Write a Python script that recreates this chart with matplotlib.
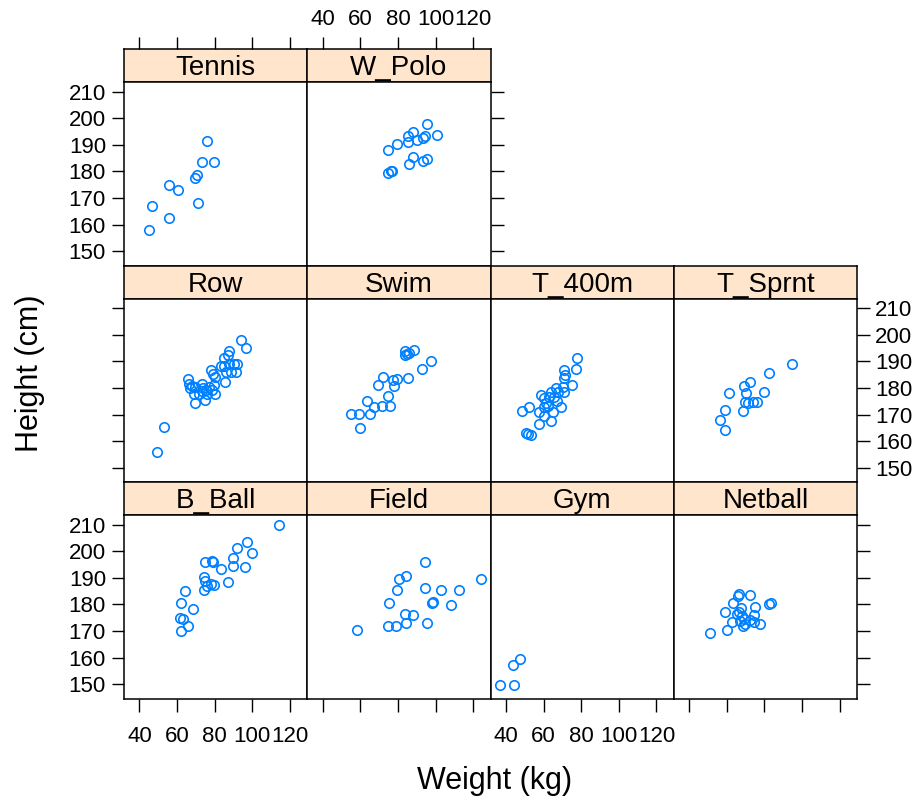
import matplotlib
matplotlib.use("Agg")
import matplotlib.pyplot as plt

plt.rcParams['font.family'] = ['Liberation Sans', 'DejaVu Sans']

# berat (kg) dan tinggi (cm) tiap cabang olahraga
tennis_wt = [76.0, 73.1, 79.8, 70.5, 69.6, 55.5, 60.3, 71.1, 46.9, 55.7, 45.0]
tennis_ht = [191.4, 183.4, 183.4, 178.8, 177.6, 174.9, 172.9, 168.3, 167.0, 162.5, 157.9]

wpolo_wt = [95.4, 100.8, 88.0, 85.1, 94.5, 93.3, 89.9, 85.1, 79.6, 74.9, 88.1, 86.0, 95.4, 93.3, 74.9, 76.3, 77.1]
wpolo_ht = [197.8, 193.8, 194.7, 193.4, 193.3, 192.4, 191.8, 191.1, 190.5, 188.0, 185.5, 182.7, 184.8, 184.0, 179.5, 180.0, 180.2]

row_wt = [93.8, 96.5, 87.6, 87.2, 84.9, 84.9, 87.6, 90.3, 92.0, 85.8, 88.5, 91.2, 85.3, 77.8, 79.0, 80.1,
          65.8, 66.2, 67.1, 69.8, 73.0, 73.7, 75.5, 76.9, 78.7, 79.6, 76.0, 80.1, 71.5, 68.9, 75.1, 69.8,
          73.0, 52.8, 49.3, 83.1, 68.0]
row_ht = [198.2, 195.1, 194.0, 192.5, 191.2, 188.4, 189.0, 189.0, 189.0, 185.9, 185.9, 185.9, 182.1, 186.8, 185.3, 184.0,
          183.4, 181.5, 180.0, 180.5, 181.5, 180.0, 179.3, 180.5, 179.3, 181.3, 177.8, 177.8, 177.8, 177.8, 175.5, 174.3,
          178.8, 165.5, 155.8, 188.4, 180.9]

swim_wt = [83.5, 86.0, 88.3, 83.5, 84.7, 97.5, 92.7, 85.2, 79.5, 77.2, 77.8, 72.2, 69.2, 74.9, 63.8, 71.3,
           76.0, 67.4, 64.9, 59.4, 55.3, 60.1]
swim_ht = [194.0, 193.2, 194.4, 192.4, 192.8, 190.3, 187.0, 183.8, 183.4, 183.1, 180.6, 184.0, 181.3, 176.9, 175.2, 173.4,
           173.4, 172.7, 170.1, 170.1, 170.1, 164.8]

t400_wt = [77.8, 77.3, 71.0, 71.4, 71.0, 75.1, 70.1, 66.6, 71.0, 67.5, 63.9, 58.9, 60.3, 63.0, 67.1, 61.2,
           60.3, 64.8, 69.2, 57.7, 60.3, 48.7, 52.3, 63.9, 57.7, 50.5, 53.2, 65.7, 62.5, 51.5]
t400_ht = [191.3, 187.2, 186.8, 185.0, 183.8, 181.3, 180.5, 180.0, 178.4, 178.4, 178.4, 177.5, 176.3, 176.5, 175.2, 174.2,
           172.7, 170.9, 172.7, 170.9, 169.6, 171.5, 172.7, 167.7, 166.5, 163.0, 162.5, 176.5, 173.4, 162.6]

tsprnt_wt = [94.4, 82.4, 72.4, 69.2, 70.3, 79.6, 61.0, 76.0, 73.9, 71.5, 69.8, 68.5, 59.2, 56.4, 59.2]
tsprnt_ht = [189.0, 185.6, 182.4, 180.6, 178.0, 178.6, 178.0, 174.6, 174.6, 174.4, 174.6, 171.2, 171.9, 168.1, 164.3]

bball_wt = [97.4, 91.7, 100.0, 89.9, 89.7, 96.1, 83.5, 78.6, 74.7, 79.0, 74.2, 75.1, 77.8, 79.5, 76.0, 74.2,
            87.0, 64.0, 62.1, 68.7, 61.7, 63.0, 65.8, 62.1, 114.2]
bball_ht = [203.6, 201.2, 199.3, 197.3, 194.6, 193.9, 193.3, 196.5, 196.1, 195.8, 190.2, 188.9, 187.7, 187.4, 187.1, 185.6,
            188.3, 184.9, 180.4, 178.3, 174.8, 174.5, 171.8, 169.9, 209.7]

field_wt = [94.5, 84.3, 80.6, 124.1, 79.7, 94.5, 102.9, 112.3, 75.1, 98.1, 98.4, 108.4, 83.5, 88.1, 84.3, 95.4,
            74.9, 79.0, 58.3]
field_ht = [196.0, 190.8, 189.4, 189.4, 185.6, 186.3, 185.5, 185.5, 180.4, 180.5, 180.8, 179.8, 176.6, 175.9, 173.1, 173.2,
            171.9, 171.9, 170.5]

gym_wt = [47.5, 43.7, 37.1, 44.3]
gym_ht = [159.5, 157.4, 149.7, 149.7]

netball_wt = [66.7, 66.2, 72.1, 63.5, 67.5, 66.7, 75.1, 59.1, 65.3, 68.0, 74.2, 82.2, 83.5, 62.6, 67.1, 68.9,
              72.4, 74.2, 69.8, 77.8, 68.5, 60.0, 51.0]
netball_ht = [183.9, 183.0, 183.6, 180.4, 178.8, 177.0, 179.2, 177.0, 176.3, 175.7, 176.0, 180.1, 180.7, 173.5, 173.8, 174.5,
              174.2, 173.5, 172.6, 172.6, 172.0, 170.5, 169.2]

x_ticks = [40, 60, 80, 100, 120]
y_ticks = [150, 160, 170, 180, 190, 200, 210]

data = {
    "Tennis": (tennis_wt, tennis_ht), "W_Polo": (wpolo_wt, wpolo_ht),
    "Row": (row_wt, row_ht), "Swim": (swim_wt, swim_ht),
    "T_400m": (t400_wt, t400_ht), "T_Sprnt": (tsprnt_wt, tsprnt_ht),
    "B_Ball": (bball_wt, bball_ht), "Field": (field_wt, field_ht),
    "Gym": (gym_wt, gym_ht), "Netball": (netball_wt, netball_ht),
}
layout = [["Tennis", "W_Polo"],
          ["Row", "Swim", "T_400m", "T_Sprnt"],
          ["B_Ball", "Field", "Gym", "Netball"]]

W, H = 921, 801
fig = plt.figure(figsize=(W / 100, H / 100), dpi=100)
xlim = (31.8, 129.2)
ylim = (144.7, 213.6)
col_left = 124
col_w = 183.25
row_top = 49
row_h = 216.5
strip_h = 33

def box(x, y, w, h):  # piksel -> koordinat figure
    return [x / W, 1 - (y + h) / H, w / W, h / H]

tick_kw = dict(direction='out', length=9, width=1.0, labelsize=16, color='black')

for r, row in enumerate(layout):
    for c, name in enumerate(row):
        x0 = col_left + c * col_w
        y0 = row_top + r * row_h
        # strip
        sax = fig.add_axes(box(x0, y0, col_w, strip_h))
        sax.set_facecolor('#ffe5cc')
        sax.set_xlim(xlim)
        sax.set_yticks([])
        sax.set_xticks(x_ticks)
        sax.tick_params(axis='x', bottom=False, labelbottom=False, **tick_kw)
        if r == 0:
            sax.tick_params(axis='x', top=True, labeltop=(c == 1), pad=5)
        sax.text(0.5, 0.42, name, transform=sax.transAxes, ha='center', va='center', fontsize=20)
        for s in sax.spines.values():
            s.set_linewidth(1.1)
        # panel
        ax = fig.add_axes(box(x0, y0 + strip_h, col_w, row_h - strip_h))
        wt, ht = data[name]
        ax.plot(wt, ht, 'o', mfc='none', mec='#0080ff', ms=6.8, mew=1.2)
        ax.set_xlim(xlim)
        ax.set_ylim(ylim)
        ax.set_xticks(x_ticks)
        ax.set_yticks(y_ticks)
        ax.tick_params(axis='both', bottom=False, top=False, left=False, right=False,
                       labelbottom=False, labelleft=False, labelright=False, labeltop=False, **tick_kw)
        if c == 0:
            ax.tick_params(axis='y', left=True, labelleft=(r != 1), pad=4)
        if c == len(row) - 1:
            ax.tick_params(axis='y', right=True, labelright=(r == 1), pad=4)
        if r == 2:
            ax.tick_params(axis='x', bottom=True, labelbottom=(c % 2 == 0), pad=11)
        for s in ax.spines.values():
            s.set_linewidth(1.1)

fig.text(495 / W, 1 - 781 / H, "Weight (kg)", ha='center', va='center', fontsize=22)
fig.text(30 / W, 1 - 373 / H, "Height (cm)", ha='center', va='center', rotation=90, fontsize=22)

fig.savefig("out.png", dpi=100)
